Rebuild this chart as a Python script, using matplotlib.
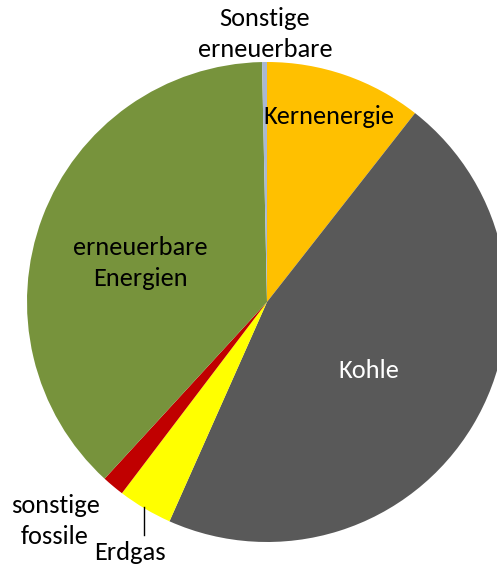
import matplotlib.pyplot as plt

# shares of the pie, clockwise starting at 12 o'clock (percent)
sources = ['Kernenergie', 'Kohle', 'Erdgas', 'sonstige fossile',
           'erneuerbare Energien', 'Sonstige erneuerbare']
shares = [10.58, 46.08, 3.67, 1.5, 37.84, 0.33]
colors = ['#FFC000', '#595959', '#FFFF00', '#C00000', '#77933C', '#A9B8D3']

W, H = 497, 565
fig = plt.figure(figsize=(W / 100, H / 100), dpi=100)
ax = fig.add_axes([0, 0, 1, 1])

cx, cy = 267, H - 302  # pie centre in pixels
r = 240

ax.pie(shares, colors=colors, startangle=90, counterclock=False,
       radius=r, center=(cx, cy), wedgeprops=dict(linewidth=0))

ax.set_xlim(0, W)
ax.set_ylim(0, H)
ax.set_aspect('equal')
ax.axis('off')

font = dict(family=['Carlito', 'Lato', 'DejaVu Sans'], fontsize=19,
            ha='center', va='center', linespacing=1.4)

ax.text(265, H - 34, 'Sonstige\nerneuerbare', color='black', **font)
ax.text(329, H - 116, 'Kernenergie', color='black', **font)
ax.text(369, H - 371, 'Kohle', color='white', **font)
ax.text(140, H - 263, 'erneuerbare\nEnergien', color='black', **font)
ax.text(55, H - 521, 'sonstige\nfossile', color='black', **font)
ax.text(130, H - 552, 'Erdgas', color='black', **font)

# leader line for Erdgas
ax.plot([144, 144], [H - 507, H - 535], color='black', linewidth=1)

fig.savefig('out.png', dpi=100)
